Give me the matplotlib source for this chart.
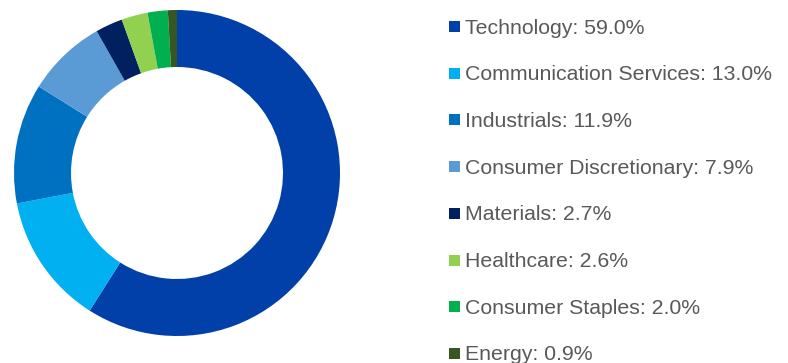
import matplotlib
matplotlib.use("Agg")
import matplotlib.pyplot as plt
from matplotlib.patches import Rectangle

sectors = ["Technology", "Communication Services", "Industrials",
           "Consumer Discretionary", "Materials", "Healthcare",
           "Consumer Staples", "Energy"]
weights = [59.0, 13.0, 11.9, 7.9, 2.7, 2.6, 2.0, 0.9]
colors = ["#0040A8", "#00B0F0", "#0070C0", "#5B9BD5",
          "#002060", "#92D050", "#00B050", "#375623"]

W, H = 788, 363
DPI = 100
plt.rcParams["font.family"] = ["Liberation Sans", "DejaVu Sans"]

fig = plt.figure(figsize=(W / DPI, H / DPI), dpi=DPI)

# donut
cx, cy, r_out, r_in = 177, 173, 163, 106
ax = fig.add_axes([(cx - r_out) / W, (H - cy - r_out) / H, 2 * r_out / W, 2 * r_out / H])
ax.pie(weights, colors=colors, startangle=90, counterclock=False, radius=1,
       wedgeprops=dict(width=(r_out - r_in) / r_out, linewidth=0))
ax.set_xlim(-1, 1)
ax.set_ylim(-1, 1)
ax.set_aspect("equal")
ax.axis("off")

# legend
lx, sq = 449, 11
y0, dy = 26.5, 46.7
for i, (name, val, col) in enumerate(zip(sectors, weights, colors)):
    yc = y0 + i * dy
    fig.patches.append(Rectangle(((lx) / W, (H - yc - sq / 2) / H), sq / W, sq / H,
                                 transform=fig.transFigure, facecolor=col,
                                 edgecolor="none"))
    fig.text((lx + sq + 5) / W, (H - yc - 7) / H, f"{name}: {val:.1f}%",
             fontsize=15.3, color="#595959", va="baseline", ha="left")

fig.savefig("out.png", dpi=DPI)
